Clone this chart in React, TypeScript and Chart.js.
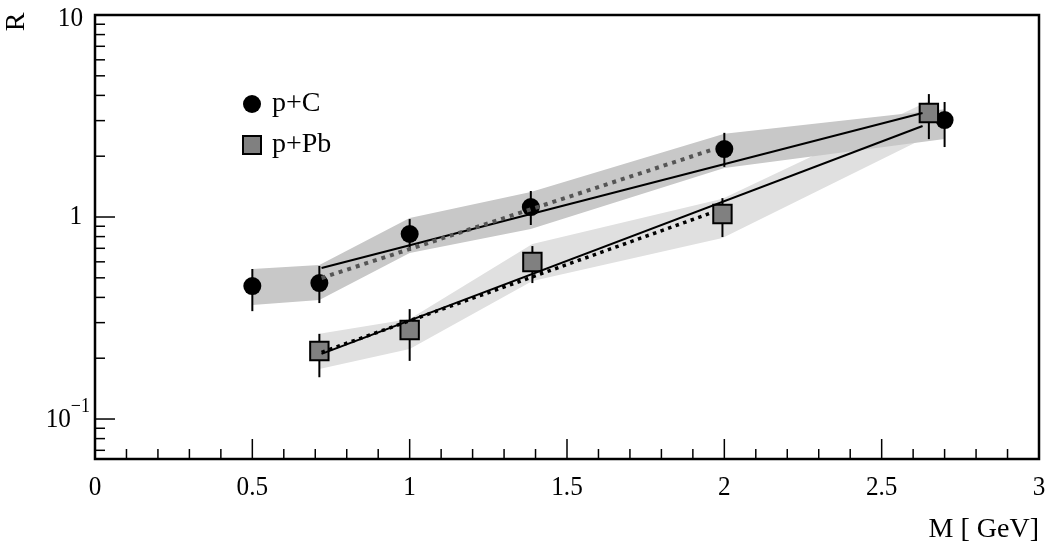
import React, { useEffect, useRef } from 'react';
import { Chart, registerables } from 'chart.js';

Chart.register(...registerables);

// ---- data ----
const cX = [0.5, 0.713, 1.0, 1.385, 2.0, 2.7];
const cY = [0.455, 0.471, 0.824, 1.12, 2.17, 3.02];
const cErrHi = [0.553, 0.572, 0.977, 1.345, 2.61, 3.71];
const cErrLo = [0.342, 0.375, 0.679, 0.913, 1.77, 2.22];
const cBandHi = [0.553, 0.578, 0.989, 1.33, 2.58, 3.42];
const cBandLo = [0.367, 0.388, 0.664, 0.872, 1.75, 2.43];

const pbX = [0.713, 1.0, 1.39, 1.994, 2.65];
const pbY = [0.217, 0.276, 0.599, 1.035, 3.27];
const pbErrHi = [0.264, 0.35, 0.718, 1.24, 4.06];
const pbErrLo = [0.161, 0.194, 0.471, 0.796, 2.43];
const pbBandHi = [0.264, 0.313, 0.735, 1.23, 3.75];
const pbBandLo = [0.177, 0.222, 0.482, 0.787, 2.52];

const cFitX = [0.72, 2.63];
const cFitY = [0.559, 3.27];
const cFit2X = [0.72, 1.96];
const cFit2Y = [0.499, 2.15];
const pbFitX = [0.72, 2.63];
const pbFitY = [0.21, 2.82];
const pbFit2X = [0.72, 1.96];
const pbFit2Y = [0.214, 1.05];

const xMajorTicks = [0, 0.5, 1, 1.5, 2, 2.5, 3];
const xTickLabels = ['0', '0.5', '1', '1.5', '2', '2.5', '3'];
const yMajorTicks = [0.1, 1, 10];
const legendLabels = ['p+C', 'p+Pb'];
const xTitle = 'M [ GeV]';
const yTitle = 'R';

const X_MIN = 0;
const X_MAX = 3;
const Y_MIN = 0.0634;
const Y_MAX = 10;

const FONT = '"Liberation Serif", serif';

const pts = (xs: number[], ys: number[]) => xs.map((x, i) => ({ x, y: ys[i] }));

// draw text with optional horizontal condensing
function txt(ctx: any, s: string, x: number, y: number, size: number, align: string, sx = 1) {
  ctx.save();
  ctx.font = `${size}px ${FONT}`;
  ctx.textAlign = align;
  ctx.textBaseline = 'middle';
  ctx.translate(x, y);
  ctx.scale(sx, 1);
  ctx.fillText(s, 0, 0);
  ctx.restore();
}

const errorBarPlugin = {
  id: 'errorBars',
  beforeDatasetDraw(chart: any, args: any) {
    const ds: any = chart.data.datasets[args.index];
    if (!ds.errHi) return;
    const xs = chart.scales.x;
    const ys = chart.scales.y;
    const ctx = chart.ctx;
    ctx.save();
    ctx.strokeStyle = '#000';
    ctx.lineWidth = 2;
    ds.data.forEach((p: any, i: number) => {
      const px = xs.getPixelForValue(p.x);
      ctx.beginPath();
      ctx.moveTo(px, ys.getPixelForValue(ds.errHi[i]));
      ctx.lineTo(px, ys.getPixelForValue(ds.errLo[i]));
      ctx.stroke();
    });
    ctx.restore();
  },
};

const axesPlugin = {
  id: 'rootAxes',
  afterDraw(chart: any) {
    const { ctx, chartArea: a } = chart;
    const xs = chart.scales.x;
    const ys = chart.scales.y;
    ctx.save();
    ctx.strokeStyle = '#000';
    ctx.fillStyle = '#000';
    // frame
    ctx.lineWidth = 2.5;
    ctx.strokeRect(a.left, a.top, a.right - a.left, a.bottom - a.top);
    // x ticks
    ctx.lineWidth = 1.5;
    for (let k = 0; k <= 30; k++) {
      const v = k / 10;
      const px = xs.getPixelForValue(v);
      const len = k % 5 === 0 ? 20 : 10;
      ctx.beginPath();
      ctx.moveTo(px, a.bottom);
      ctx.lineTo(px, a.bottom - len);
      ctx.stroke();
    }
    // y ticks
    for (let e = -2; e <= 1; e++) {
      for (let m = 1; m <= 9; m++) {
        const v = m * Math.pow(10, e);
        if (v < Y_MIN || v > Y_MAX) continue;
        const py = ys.getPixelForValue(v);
        const len = m === 1 ? 20 : 10;
        ctx.beginPath();
        ctx.moveTo(a.left, py);
        ctx.lineTo(a.left + len, py);
        ctx.stroke();
      }
    }
    // x labels
    xMajorTicks.forEach((v, i) => {
      txt(ctx, xTickLabels[i], xs.getPixelForValue(v), a.bottom + 29, 28, 'center', 0.9);
    });
    // y labels
    yMajorTicks.forEach((v) => {
      const py = ys.getPixelForValue(v);
      const e = Math.round(Math.log10(v));
      if (e === 0) {
        txt(ctx, '1', a.left - 13, py, 28, 'right', 0.9);
      } else if (e === 1) {
        txt(ctx, '10', a.left - 12, py + 4, 28, 'right', 0.9);
      } else {
        const sup = '\u2212' + Math.abs(e);
        ctx.font = `20px ${FONT}`;
        const sw = ctx.measureText(sup).width * 0.9;
        const right = a.left - 5;
        txt(ctx, sup, right, py - 12, 20, 'right', 0.9);
        txt(ctx, '10', right - sw, py + 1, 28, 'right', 0.9);
      }
    });
    // axis titles
    txt(ctx, xTitle, a.right, a.bottom + 71, 28, 'right', 1);
    ctx.save();
    ctx.translate(17, 22);
    ctx.rotate(-Math.PI / 2);
    txt(ctx, yTitle, 0, 0, 28, 'center', 1);
    ctx.restore();
    // legend
    const lx = 252;
    const ly1 = 104;
    const ly2 = 145;
    ctx.beginPath();
    ctx.arc(lx, ly1, 9, 0, Math.PI * 2);
    ctx.fillStyle = '#000';
    ctx.fill();
    ctx.fillStyle = '#808080';
    ctx.fillRect(lx - 9, ly2 - 9, 18, 18);
    ctx.lineWidth = 2;
    ctx.strokeRect(lx - 9, ly2 - 9, 18, 18);
    ctx.fillStyle = '#000';
    txt(ctx, legendLabels[0], lx + 20, ly1, 28, 'left', 1);
    txt(ctx, legendLabels[1], lx + 20, ly2, 28, 'left', 1);
    ctx.restore();
  },
};

export default function App() {
  const ref = useRef<HTMLCanvasElement | null>(null);
  useEffect(() => {
    let chart: Chart | null = null;
    let cancelled = false;
    const build = () => {
      if (cancelled || !ref.current) return;
      chart = new Chart(ref.current, {
        type: 'line',
        data: {
          datasets: [
            {
              label: 'C band hi',
              data: pts(cX, cBandHi),
              borderWidth: 0,
              pointRadius: 0,
              backgroundColor: '#c8c8c8',
              fill: '+1',
              order: 19,
            } as any,
            {
              label: 'C band lo',
              data: pts(cX, cBandLo),
              borderWidth: 0,
              pointRadius: 0,
              fill: false,
              order: 19,
            },
            {
              label: 'Pb band hi',
              data: pts(pbX, pbBandHi),
              borderWidth: 0,
              pointRadius: 0,
              backgroundColor: '#e0e0e0',
              fill: '+1',
              order: 20,
            },
            {
              label: 'Pb band lo',
              data: pts(pbX, pbBandLo),
              borderWidth: 0,
              pointRadius: 0,
              fill: false,
              order: 20,
            },
            {
              label: legendLabels[0],
              data: pts(cX, cY),
              showLine: false,
              pointStyle: 'circle',
              pointRadius: 9,
              pointBackgroundColor: '#000',
              pointBorderColor: '#000',
              pointBorderWidth: 0,
              errHi: cErrHi,
              errLo: cErrLo,
              order: 10,
            } as any,
            {
              label: legendLabels[1],
              data: pts(pbX, pbY),
              showLine: false,
              pointStyle: 'rect',
              pointRadius: 13,
              pointBackgroundColor: '#808080',
              pointBorderColor: '#000',
              pointBorderWidth: 2,
              errHi: pbErrHi,
              errLo: pbErrLo,
              order: 9,
            } as any,
            {
              label: 'C fit',
              data: pts(cFitX, cFitY),
              borderColor: '#000',
              borderWidth: 2,
              pointRadius: 0,
              fill: false,
              order: 4,
            },
            {
              label: 'C fit 2',
              data: pts(cFit2X, cFit2Y),
              borderColor: '#555555',
              borderWidth: 4,
              borderDash: [4, 5],
              pointRadius: 0,
              fill: false,
              order: 3,
            },
            {
              label: 'Pb fit',
              data: pts(pbFitX, pbFitY),
              borderColor: '#000',
              borderWidth: 2,
              pointRadius: 0,
              fill: false,
              order: 2,
            },
            {
              label: 'Pb fit 2',
              data: pts(pbFit2X, pbFit2Y),
              borderColor: '#000',
              borderWidth: 3.5,
              borderDash: [3.5, 4.5],
              pointRadius: 0,
              fill: false,
              order: 1,
            },
          ],
        },
        options: {
          responsive: false,
          animation: false,
          layout: { padding: { left: 95, right: 8, top: 14, bottom: 88 } },
          plugins: {
            legend: { display: false },
            tooltip: { enabled: false },
          },
          elements: { line: { tension: 0 } },
          scales: {
            x: { type: 'linear', min: X_MIN, max: X_MAX, display: false },
            y: { type: 'logarithmic', min: Y_MIN, max: Y_MAX, display: false },
          },
        },
        plugins: [errorBarPlugin, axesPlugin],
      });
    };
    const fonts: any = (document as any).fonts;
    if (fonts && fonts.load) {
      Promise.all([
        fonts.load('28px "Liberation Serif"'),
        fonts.load('20px "Liberation Serif"'),
      ])
        .catch(() => null)
        .then(build);
    } else {
      build();
    }
    return () => {
      cancelled = true;
      if (chart) chart.destroy();
    };
  }, []);
  return (
    <div style={{ position: 'fixed', left: 0, top: 0, width: 1054, height: 547, background: '#fff' }}>
      <canvas ref={ref} width={1054} height={547} style={{ display: 'block' }} />
    </div>
  );
}
